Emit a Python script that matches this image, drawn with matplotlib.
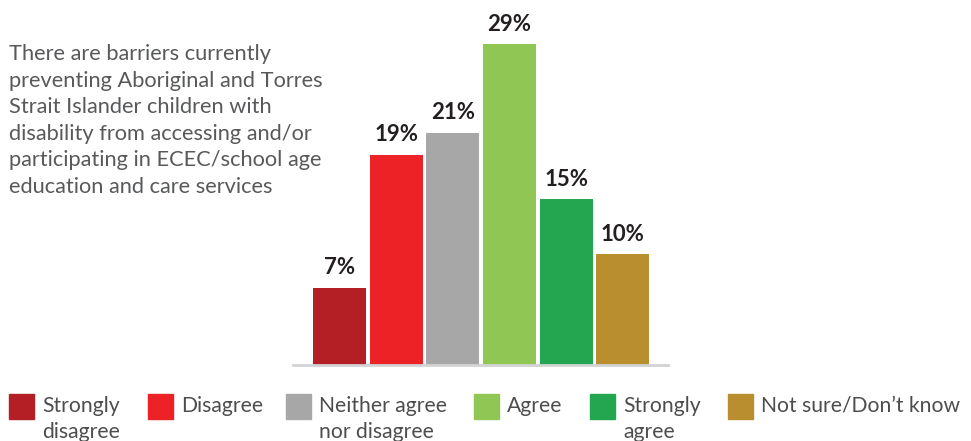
import matplotlib.pyplot as plt
from matplotlib.patches import Rectangle

plt.rcParams["font.family"] = ["Lato", "DejaVu Sans"]

categories = ["Strongly\ndisagree", "Disagree", "Neither agree\nnor disagree",
              "Agree", "Strongly\nagree", "Not sure/Don\u2019t know"]
values = [7, 19, 21, 29, 15, 10]
colors = ["#B31F25", "#EC2227", "#A7A7A7", "#8FC654", "#24A650", "#B98E2F"]

question = ["There are barriers currently",
            "preventing Aboriginal and Torres",
            "Strait Islander children with",
            "disability from accessing and/or",
            "participating in ECEC/school age",
            "education and care services"]

W, H = 971, 441
fig = plt.figure(figsize=(W / 100, H / 100), dpi=100)

# axes placed in pixel terms: baseline at y=365, 29% bar top at y=44
ax = fig.add_axes([293 / W, (H - 365) / H, (668 - 293) / W, (365 - 44) / H])
x = range(len(values))
bars = ax.bar(x, values, width=0.936, color=colors)
ax.set_xlim(-0.82, 5.80)
ax.set_ylim(0, 29)

for b, v in zip(bars, values):
    ax.annotate(f"{v}%", (b.get_x() + b.get_width() / 2, v),
                xytext=(0, 9.5), textcoords="offset points",
                ha="center", va="baseline", fontsize=16, fontweight="bold",
                color="#231F20", annotation_clip=False)

for side in ["top", "right", "left"]:
    ax.spines[side].set_visible(False)
ax.spines["bottom"].set_color("#D2D3D5")
ax.spines["bottom"].set_linewidth(2)
ax.set_xticks([])
ax.set_yticks([])

# question text on the left, one line at a time
for i, line in enumerate(question):
    fig.text(9 / W, 1 - (60 + i * 26.6) / H, line, fontsize=15.7,
             color="#58595B", ha="left", va="baseline")

# legend drawn by hand so the swatch sits on the first text line
swatch_x = [9, 148, 286, 474, 590, 728]
for sx, lab, c in zip(swatch_x, categories, colors):
    fig.patches.append(Rectangle((sx / W, 1 - 419 / H), 25 / W, 25 / H,
                                 transform=fig.transFigure, color=c))
    for j, part in enumerate(lab.split("\n")):
        fig.text((sx + 33) / W, 1 - (412 + j * 26) / H, part, fontsize=15.2,
                 color="#4D4D4F", ha="left", va="baseline")

fig.savefig("out.png", dpi=100)
